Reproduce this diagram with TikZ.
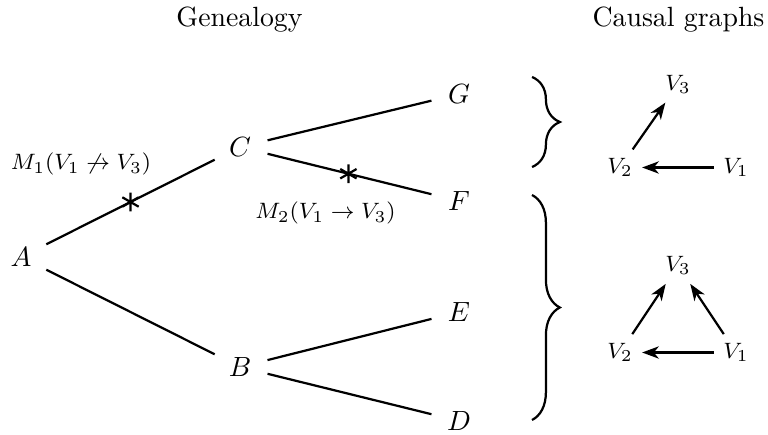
\documentclass[tikz,border=0pt]{standalone}
\usetikzlibrary{calc,arrows.meta,decorations.pathreplacing}
\begin{document}
\begin{tikzpicture}[x=0.3597pt,y=-0.3597pt,
  tnode/.style={circle,inner sep=0pt,minimum size=20pt},
  vnode/.style={circle,inner sep=0pt,minimum size=15.5pt,font=\fontsize{8.5}{10}\selectfont},
  mlabel/.style={anchor=base,inner sep=0pt,font=\fontsize{8.5}{10}\selectfont},
  title/.style={anchor=base,inner sep=0pt},
  edge/.style={thick},
  arr/.style={thick,-{Stealth[length=6pt,width=4.4pt,inset=1.8pt]}},
  brc/.style={thick,decorate,decoration={brace,amplitude=10pt}},
  starmark/.pic={\draw[thick] (90:3.4pt)--(270:3.4pt) (30:3.4pt)--(210:3.4pt) (150:3.4pt)--(330:3.4pt);}]
\useasboundingbox (0,0) rectangle (768,435);
% titles
\node[title] (t1) at (239.5,27) {Genealogy};
\node[title] (t2) at (678.5,27) {Causal graphs};
% tree
\node[tnode] (A) at (21,257) {$A$};
\node[tnode] (C) at (240,147) {$C$};
\node[tnode] (B) at (240,367) {$B$};
\node[tnode] (G) at (459,94) {$G$};
\node[tnode] (F) at (459,201) {$F$};
\node[tnode] (E) at (459,312) {$E$};
\node[tnode] (D) at (459,421) {$D$};
\draw[edge] (A) -- (C);
\draw[edge] (A) -- (B);
\draw[edge] (C) -- (G);
\draw[edge] (C) -- (F);
\draw[edge] (B) -- (E);
\draw[edge] (B) -- (D);
\coordinate (x1) at ($(A)!0.5!(C)$);
\coordinate (x2) at ($(C)!0.495!(F)$);
\pic at (x1) {starmark};
\pic at (x2) {starmark};
\node[mlabel] (m1) at (81,170) {$M_1(V_1 \not\to V_3)$};
\node[mlabel] (m2) at (325.5,219) {$M_2(V_1 \to V_3)$};
% braces
\coordinate (b1s) at (532,77);
\coordinate (b1e) at (532,167);
\coordinate (b2s) at (532,195);
\coordinate (b2e) at (532,420);
\draw[brc] (b1s) -- (b1e);
\draw[brc] (b2s) -- (b2e);
% causal graph 1
\node[vnode] (u3) at (678,84.5) {$V_3$};
\node[vnode] (u2) at (620,167.5) {$V_2$};
\node[vnode] (u1) at (736,167.5) {$V_1$};
\draw[arr] (u2) -- (u3);
\draw[arr] (u1) -- (u2);
% causal graph 2
\node[vnode] (w3) at (678,265.5) {$V_3$};
\node[vnode] (w2) at (620,352.5) {$V_2$};
\node[vnode] (w1) at (736,352.5) {$V_1$};
\draw[arr] (w2) -- (w3);
\draw[arr] (w1) -- (w3);
\draw[arr] (w1) -- (w2);
\end{tikzpicture}
\end{document}
